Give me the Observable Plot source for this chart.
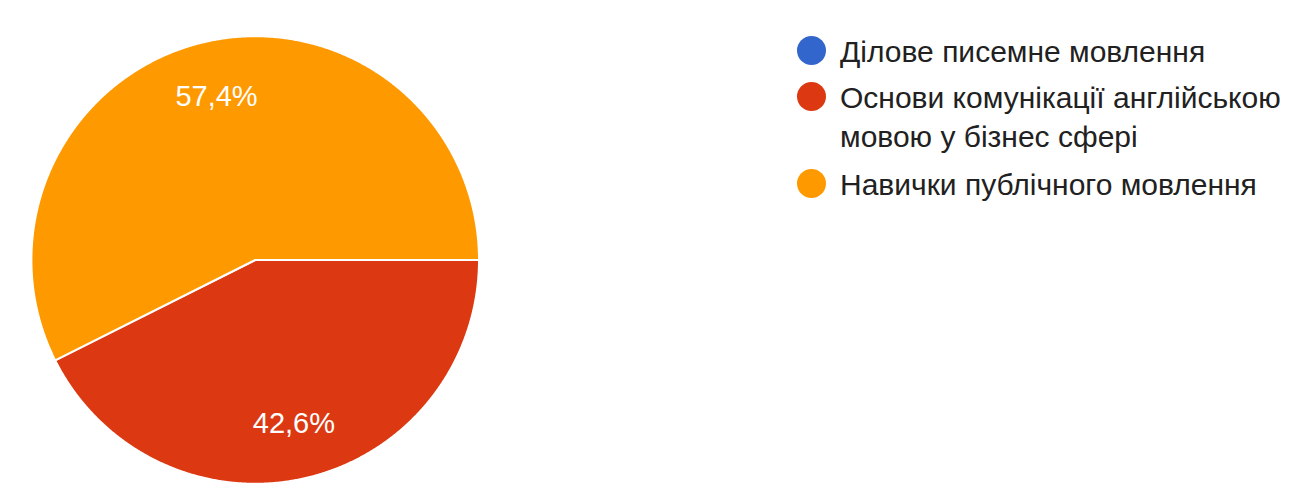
<!DOCTYPE html>
<html>
<head>
<meta charset="utf-8">
<script src="https://cdn.jsdelivr.net/npm/d3@7"></script>
<script src="https://cdn.jsdelivr.net/npm/@observablehq/plot@0.6"></script>
<style>
  html, body { margin: 0; padding: 0; background: #fff; }
  #wrap { position: relative; width: 1303px; height: 503px; overflow: hidden; }
  #wrap svg { position: absolute; left: 0; top: 0; }
  .leg { position: absolute; left: 797px; font-family: "Liberation Sans", Arial, sans-serif;
         font-size: 30px; line-height: 39px; color: #212121; }
  .leg .sw { position: absolute; left: 0; top: 4px; width: 29px; height: 29px; border-radius: 50%; }
  .leg .tx { position: absolute; left: 43px; top: 0; white-space: pre; }
</style>
</head>
<body>
<div id="wrap"></div>
<script>
// ---- data ----
const categories = ["Ділове писемне мовлення", "Основи комунікації англійською мовою у бізнес сфері", "Навички публічного мовлення"];
const legendLabels = ["Ділове писемне мовлення", "Основи комунікації англійською\nмовою у бізнес сфері", "Навички публічного мовлення"];
const values = [0, 42.6, 57.4];
const colors = ["#3366cc", "#dc3912", "#ff9900"];

// ---- build slice outlines (angles from the values) ----
const total = d3.sum(values);
const slicePts = [];
const labels = [];
let cum = 0;
categories.forEach((name, i) => {
  const v = values[i];
  if (v <= 0) { return; }
  const a0 = -2 * Math.PI * cum / total;
  const a1 = -2 * Math.PI * (cum + v) / total;
  const n = Math.max(2, Math.ceil(Math.abs(a1 - a0) / 0.005));
  slicePts.push({name, x: 0, y: 0});
  for (let k = 0; k <= n; k++) {
    const a = a0 + (a1 - a0) * k / n;
    slicePts.push({name, x: Math.cos(a), y: Math.sin(a)});
  }
  slicePts.push({name, x: 0, y: 0});
  const am = (a0 + a1) / 2;
  labels.push({name, x: 0.75 * Math.cos(am), y: 0.75 * Math.sin(am),
               text: v.toFixed(1).replace(".", ",") + "%"});
  cum += v;
});

const cx = 254.7, cy = 259.5, r = 223.8;
const chart = Plot.plot({
  width: 1303,
  height: 503,
  margin: 0,
  x: {domain: [-1, 1], range: [cx - r, cx + r], axis: null},
  y: {domain: [-1, 1], range: [cy + r, cy - r], axis: null},
  color: {domain: categories, range: colors},
  style: {background: "transparent"},
  marks: [
    Plot.line(slicePts, {x: "x", y: "y", z: "name", fill: "name", stroke: "white", strokeWidth: 2, strokeLinejoin: "round", curve: "linear"}),
    Plot.text(labels, {x: "x", y: "y", text: "text", fill: "white", fontSize: 29, fontFamily: "Liberation Sans, Arial, sans-serif", textAnchor: "middle"})
  ]
});
const wrap = document.getElementById("wrap");
wrap.appendChild(chart);

// ---- legend ----
const tops = [31.5, 78, 165];
legendLabels.forEach((lab, i) => {
  const d = document.createElement("div");
  d.className = "leg";
  d.style.top = tops[i] + "px";
  const sw = document.createElement("div");
  sw.className = "sw";
  sw.style.background = colors[i];
  const tx = document.createElement("div");
  tx.className = "tx";
  tx.textContent = lab;
  d.appendChild(sw); d.appendChild(tx);
  wrap.appendChild(d);
});
</script>
</body>
</html>
